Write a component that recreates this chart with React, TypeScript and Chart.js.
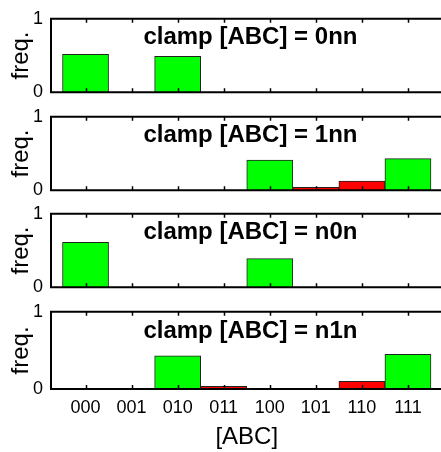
import React, { useEffect, useRef } from "react";
import { Chart, registerables } from "chart.js";

Chart.register(...registerables);

const categories = ["000", "001", "010", "011", "100", "101", "110", "111"];
const panelTitles = ["clamp [ABC] = 0nn", "clamp [ABC] = 1nn", "clamp [ABC] = n0n", "clamp [ABC] = n1n"];
const freq0nn = [0.515, 0, 0.49, 0, 0, 0, 0, 0];
const freq1nn = [0, 0, 0, 0, 0.41, 0.04, 0.125, 0.43];
const freqN0n = [0.61, 0, 0, 0, 0.39, 0, 0, 0];
const freqN1n = [0, 0, 0.43, 0.035, 0, 0, 0.1, 0.45];
const red0nn = [0, 0, 0, 0, 0, 0, 0, 0];
const red1nn = [0, 0, 0, 0, 0, 1, 1, 0];
const redN0n = [0, 0, 0, 0, 0, 0, 0, 0];
const redN1n = [0, 0, 0, 1, 0, 0, 1, 0];
const yTickValues = [0, 1];
const yLabel = "freq.";
const xLabel = "[ABC]";

const FONT = '"Liberation Sans", Arial, Helvetica, sans-serif';
const GREEN = "#00ff00";
const RED = "#ff0000";

const framePlugin = {
  id: "frame",
  afterDatasetsDraw(chart: any, _args: any, opts: any) {
    const { ctx, chartArea } = chart;
    const { left, right, top, bottom } = chartArea;
    const xs = chart.scales.x;
    const ys = chart.scales.y;
    ctx.save();
    ctx.strokeStyle = "#000";
    ctx.lineWidth = 1.5;
    ctx.beginPath();
    xs.ticks.forEach((t: any) => {
      const px = Math.round(xs.getPixelForValue(t.value)) + 0.5;
      ctx.moveTo(px, top);
      ctx.lineTo(px, top + 4);
      ctx.moveTo(px, bottom);
      ctx.lineTo(px, bottom - 4);
    });
    ctx.stroke();
    ctx.lineWidth = 2;
    ctx.beginPath();
    ctx.moveTo(right + 5, top);
    ctx.lineTo(left, top);
    ctx.lineTo(left, bottom);
    ctx.lineTo(right + 5, bottom);
    ctx.stroke();
    ctx.fillStyle = "#000";
    ctx.font = "bold 24px " + FONT;
    ctx.textAlign = "center";
    ctx.textBaseline = "alphabetic";
    ctx.fillText(opts.text, xs.getPixelForValue(4.58), ys.getPixelForValue(0.66));
    ctx.restore();
  },
};

type PanelProps = {
  values: number[];
  reds: number[];
  title: string;
  top: number;
  height: number;
  last: boolean;
};

function Panel({ values, reds, title, top, height, last }: PanelProps) {
  const ref = useRef<HTMLCanvasElement>(null);
  useEffect(() => {
    const chart = new Chart(ref.current as HTMLCanvasElement, {
      type: "bar",
      data: {
        datasets: [
          {
            data: values.map((v, i) => ({ x: i + 1, y: v })),
            backgroundColor: reds.map((r) => (r ? RED : GREEN)),
            borderColor: "#222222",
            borderWidth: 1,
            borderSkipped: "start",
            barPercentage: 1,
            categoryPercentage: 1,
          } as any,
        ],
      },
      options: {
        animation: false,
        responsive: true,
        maintainAspectRatio: false,
        layout: { padding: { top: 15, bottom: last ? 0 : 15, left: 0, right: 1.5 } },
        plugins: {
          legend: { display: false },
          tooltip: { enabled: false },
          frame: { text: title },
        } as any,
        scales: {
          x: {
            type: "linear",
            min: 0.25,
            max: 8.75,
            offset: false,
            grid: { display: false, drawTicks: false, offset: false },
            border: { display: false },
            afterBuildTicks: (s: any) => {
              s.ticks = categories.map((_, i) => ({ value: i + 1 }));
            },
            afterFit: (s: any) => {
              s.height = last ? 63 : 0;
            },
            ticks: {
              display: last,
              autoSkip: false,
              maxRotation: 0,
              padding: 8,
              color: "#000",
              font: { family: FONT, size: 18 },
              callback: (_v: any, i: number) => categories[i],
            },
            title: {
              display: last,
              text: xLabel,
              color: "#000",
              font: { family: FONT, size: 24 },
              padding: { top: 0, bottom: 0 },
            },
          },
          y: {
            min: 0,
            max: 1,
            grid: { display: false, drawTicks: false },
            border: { display: false },
            afterBuildTicks: (s: any) => {
              s.ticks = yTickValues.map((v) => ({ value: v }));
            },
            afterFit: (s: any) => {
              s.width = 51;
            },
            ticks: {
              padding: 8,
              color: "#000",
              font: { family: FONT, size: 18 },
              callback: (v: any) => String(v),
            },
            title: {
              display: true,
              text: yLabel,
              color: "#000",
              font: { family: FONT, size: 24 },
              padding: { top: 7, bottom: 0 },
            },
          },
        },
      } as any,
      plugins: [framePlugin as any],
    });
    return () => chart.destroy();
  }, []);
  return (
    <div style={{ position: "absolute", left: 0, top, width: 444, height }}>
      <canvas ref={ref} />
    </div>
  );
}

export default function App() {
  const panels = [
    { values: freq0nn, reds: red0nn, plotTop: 15 },
    { values: freq1nn, reds: red1nn, plotTop: 113 },
    { values: freqN0n, reds: redN0n, plotTop: 210 },
    { values: freqN1n, reds: redN1n, plotTop: 308 },
  ];
  return (
    <div
      style={{
        position: "fixed",
        left: 0,
        top: 0,
        width: 441,
        height: 452,
        overflow: "hidden",
        background: "#fff",
      }}
    >
      {panels.map((p, i) => {
        const last = i === panels.length - 1;
        const top = p.plotTop - 15;
        const height = last ? 452 - top : 81 + 30;
        return (
          <Panel
            key={i}
            values={p.values}
            reds={p.reds}
            title={panelTitles[i]}
            top={top}
            height={height}
            last={last}
          />
        );
      })}
    </div>
  );
}
